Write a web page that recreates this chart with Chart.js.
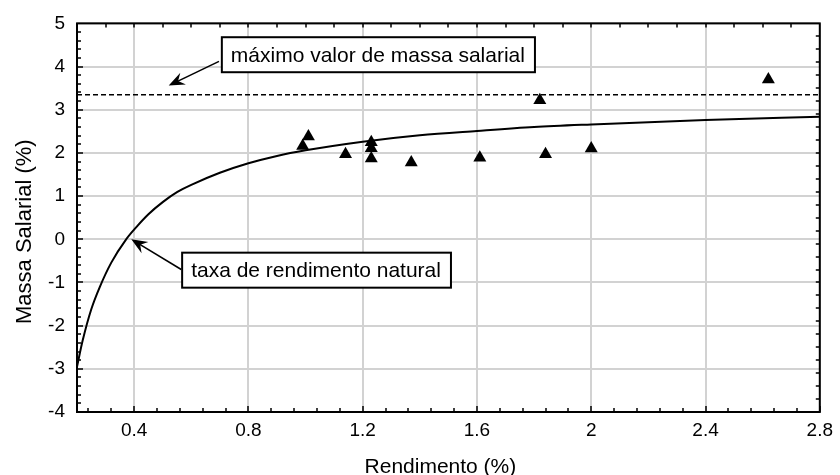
<!DOCTYPE html>
<html>
<head>
<meta charset="utf-8">
<script src="https://cdn.jsdelivr.net/npm/chart.js@4.4.1/dist/chart.umd.min.js"></script>
<style>
  html, body { margin: 0; padding: 0; background: #fff; }
  #wrap { width: 840px; height: 475px; }
</style>
</head>
<body>
<div id="wrap"><canvas id="massaChart" width="840" height="475"></canvas></div>
<script>
// axis ticks
const xTicks = [0.4, 0.8, 1.2, 1.6, 2, 2.4, 2.8];
const yTicks = [-4, -3, -2, -1, 0, 1, 2, 3, 4, 5];

// observed points (Rendimento %, Massa Salarial %)
const obsX = [0.99, 1.01, 1.14, 1.23, 1.23, 1.23, 1.37, 1.61, 1.82, 1.84, 2.0, 2.62];
const obsY = [2.16, 2.38, 1.97, 2.25, 2.11, 1.87, 1.78, 1.89, 3.22, 1.97, 2.10, 3.70];

// fitted curve
const fitX = [0.2, 0.22, 0.25, 0.28, 0.32, 0.372, 0.41, 0.45, 0.5, 0.55, 0.6, 0.7, 0.8, 0.9, 1.0, 1.2, 1.4, 1.6, 1.8, 2.0, 2.4, 2.8];
const fitY = [-2.95, -2.34, -1.62, -1.1, -0.54, 0, 0.3, 0.58, 0.86, 1.09, 1.26, 1.54, 1.76, 1.93, 2.06, 2.26, 2.41, 2.51, 2.6, 2.66, 2.76, 2.84];

// maximum wage mass level
const maxLevel = 3.35;

const FONT = '"Liberation Sans", Arial, sans-serif';

// callouts: box top-left, arrow tail and arrow tip, all in data units
const notes = [
    { text: 'máximo valor de massa salarial', boxX: 0.707, boxY: 4.68, tailX: 0.697, tailY: 4.12, tipX: 0.521, tipY: 3.56 },
    { text: 'taxa de rendimento natural', boxX: 0.568, boxY: -0.31, tailX: 0.565, tailY: -0.70, tipX: 0.39, tipY: 0.0 }
];

const toPoints = (xs, ys) => xs.map((x, i) => ({ x: x, y: ys[i] }));

function drawArrow(ctx, x1, y1, x2, y2) {
    const ang = Math.atan2(y2 - y1, x2 - x1);
    const len = 16, half = 6.5;
    ctx.beginPath();
    ctx.moveTo(x1, y1);
    ctx.lineTo(x2 - Math.cos(ang) * 8, y2 - Math.sin(ang) * 8);
    ctx.lineWidth = 1.6;
    ctx.strokeStyle = '#000';
    ctx.stroke();
    // notched arrow head
    ctx.save();
    ctx.translate(x2, y2);
    ctx.rotate(ang);
    ctx.beginPath();
    ctx.moveTo(0, 0);
    ctx.lineTo(-len, -half);
    ctx.lineTo(-len * 0.65, 0);
    ctx.lineTo(-len, half);
    ctx.closePath();
    ctx.fillStyle = '#000';
    ctx.fill();
    ctx.restore();
}

// frame, inward ticks, callouts and axis titles
const decorPlugin = {
    id: 'decor',
    afterDatasetsDraw(chart) {
        const { ctx, chartArea: a, scales: { x, y } } = chart;
        ctx.save();

        // frame
        ctx.strokeStyle = '#000';
        ctx.lineWidth = 2;
        ctx.strokeRect(a.left, a.top, a.right - a.left, a.bottom - a.top);

        // tick marks pointing into the plot
        ctx.lineWidth = 1.5;
        ctx.beginPath();
        for (let i = 0; i <= 32; i++) {
            const v = 0.24 + i * 0.08;
            if (v > 2.8 + 1e-6) break;
            const px = Math.round(x.getPixelForValue(v));
            const major = Math.abs(v / 0.4 - Math.round(v / 0.4)) < 1e-6;
            const l = major ? 6 : 4;
            ctx.moveTo(px, a.bottom); ctx.lineTo(px, a.bottom - l);
        }
        for (let i = 1; i < 26; i++) {
            const v = 0.2 + i * 0.1;
            const px = Math.round(x.getPixelForValue(v));
            ctx.moveTo(px, a.top); ctx.lineTo(px, a.top + 4);
        }
        for (let i = 1; i < 45; i++) {
            const v = -4 + i * 0.2;
            const py = Math.round(y.getPixelForValue(v));
            const l = (i % 5 === 0) ? 6 : 4;
            ctx.moveTo(a.left, py); ctx.lineTo(a.left + l, py);
        }
        for (let i = 1; i < 30; i++) {
            const v = -4 + i * 0.3;
            const py = Math.round(y.getPixelForValue(v));
            ctx.moveTo(a.right, py); ctx.lineTo(a.right - 4, py);
        }
        ctx.stroke();

        // callouts
        ctx.font = '21px ' + FONT;
        ctx.textBaseline = 'middle';
        notes.forEach(n => {
            const bx = x.getPixelForValue(n.boxX);
            const by = y.getPixelForValue(n.boxY);
            const w = ctx.measureText(n.text).width + 19;
            const h = 35;
            drawArrow(ctx, x.getPixelForValue(n.tailX), y.getPixelForValue(n.tailY),
                x.getPixelForValue(n.tipX), y.getPixelForValue(n.tipY));
            ctx.fillStyle = '#fff';
            ctx.fillRect(bx, by, w, h);
            ctx.lineWidth = 2;
            ctx.strokeStyle = '#000';
            ctx.strokeRect(bx, by, w, h);
            ctx.fillStyle = '#000';
            ctx.textAlign = 'left';
            ctx.fillText(n.text, bx + 9, by + h / 2 + 1);
        });

        // axis titles
        ctx.fillStyle = '#000';
        ctx.textAlign = 'center';
        ctx.textBaseline = 'alphabetic';
        ctx.font = '21px ' + FONT;
        ctx.fillText('Rendimento (%)', (a.left + a.right) / 2 - 8, 473);
        ctx.translate(31, (a.top + a.bottom) / 2 + 14);
        ctx.rotate(-Math.PI / 2);
        ctx.font = '22px ' + FONT;
        ctx.fillText('Massa Salarial (%)', 0, 0);
        ctx.restore();
    }
};

new Chart(document.getElementById('massaChart'), {
    type: 'scatter',
    data: {
        datasets: [{
            label: 'Observado',
            data: toPoints(obsX, obsY),
            pointStyle: 'triangle',
            pointRadius: 7.5,
            pointBackgroundColor: '#000',
            pointBorderWidth: 0,
            order: 1
        }, {
            label: 'Ajuste',
            data: toPoints(fitX, fitY),
            showLine: true,
            borderColor: '#000',
            borderWidth: 2,
            pointRadius: 0,
            cubicInterpolationMode: 'monotone',
            order: 2
        }, {
            label: 'Máximo',
            data: [{ x: 0.2, y: maxLevel }, { x: 2.8, y: maxLevel }],
            showLine: true,
            borderColor: '#000',
            borderWidth: 1.5,
            borderDash: [5, 3],
            pointRadius: 0,
            order: 3
        }]
    },
    options: {
        responsive: false,
        animation: false,
        devicePixelRatio: 1,
        layout: { padding: { top: 22, right: 15, left: 0, bottom: 0 } },
        plugins: {
            legend: { display: false },
            tooltip: { enabled: false }
        },
        scales: {
            x: {
                type: 'linear',
                min: 0.2,
                max: 2.8,
                afterBuildTicks: s => { s.ticks = xTicks.map(v => ({ value: v })); },
                afterFit: s => { s.height = 63; },
                ticks: {
                    color: '#000',
                    padding: 7,
                    maxRotation: 0,
                    font: { family: FONT, size: 19 },
                    callback: v => String(v)
                },
                grid: { color: '#d2d2d2', lineWidth: 2, drawTicks: false },
                border: { display: false }
            },
            y: {
                type: 'linear',
                min: -4,
                max: 5,
                afterBuildTicks: s => { s.ticks = yTicks.map(v => ({ value: v })); },
                afterFit: s => { s.width = 77; },
                ticks: {
                    color: '#000',
                    padding: 12,
                    font: { family: FONT, size: 19 },
                    callback: v => String(v)
                },
                grid: { color: '#d2d2d2', lineWidth: 2, drawTicks: false },
                border: { display: false }
            }
        }
    },
    plugins: [decorPlugin]
});
</script>
</body>
</html>
